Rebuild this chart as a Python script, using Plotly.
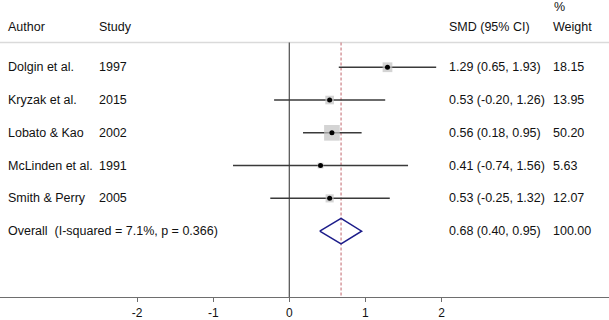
import plotly.graph_objects as go

# ---- data ----
authors = ["Dolgin et al.", "Kryzak et al.", "Lobato & Kao", "McLinden et al.", "Smith & Perry"]
years = ["1997", "2015", "2002", "1991", "2005"]
smd = [1.29, 0.53, 0.56, 0.41, 0.53]
ci_low = [0.65, -0.20, 0.18, -0.74, -0.25]
ci_high = [1.93, 1.26, 0.95, 1.56, 1.32]
weights = [18.15, 13.95, 50.20, 5.63, 12.07]

overall_label = "Overall\u00a0 (I-squared = 7.1%, p = 0.366)"
overall_smd = 0.68
overall_low = 0.40
overall_high = 0.95
overall_weight = 100.00

tick_vals = [-2, -1, 0, 1, 2]
tick_text = ["-2", "-1", "0", "1", "2"]

# ---- layout helpers ----
W, H = 609, 320
X_RANGE = [-3.802, 4.201]
Y_RANGE = [8.009, -1.0515]   # row index, reversed (row 1 at top)
FONT = "Liberation Sans, Arial, sans-serif"

def px(p):
    return p / W

rows = list(range(1, len(authors) + 1))
overall_row = len(authors) + 1
sep_row = 0.242
header_row = -0.23
pct_row = -0.83

fig = go.Figure()

# CI lines
for r, lo, hi in zip(rows, ci_low, ci_high):
    fig.add_trace(go.Scatter(x=[lo, hi], y=[r, r], mode="lines",
                             line=dict(color="#3a3a3a", width=1.5),
                             hoverinfo="skip", showlegend=False))

# weight boxes
fig.add_trace(go.Scatter(x=smd, y=rows, mode="markers",
                         marker=dict(symbol="square", color="#c2c2c2",
                                     size=[2.1 * w ** 0.5 + 0.8 for w in weights],
                                     line=dict(width=0)),
                         hoverinfo="skip", showlegend=False))
# point estimates
fig.add_trace(go.Scatter(x=smd, y=rows, mode="markers",
                         marker=dict(symbol="circle", color="black", size=5),
                         hoverinfo="skip", showlegend=False))

# overall diamond
dh = 0.39
fig.add_trace(go.Scatter(
    x=[overall_low, overall_smd, overall_high, overall_smd, overall_low],
    y=[overall_row, overall_row - dh, overall_row, overall_row + dh, overall_row],
    mode="lines", line=dict(color="#1c1c8a", width=1.5),
    hoverinfo="skip", showlegend=False))

shapes = [
    # header separator
    dict(type="line", xref="paper", yref="y", x0=0, x1=1, y0=sep_row, y1=sep_row,
         line=dict(color="#dadada", width=1.5), layer="below"),
    # null line
    dict(type="line", xref="x", yref="y", x0=0, x1=0, y0=sep_row, y1=Y_RANGE[0],
         line=dict(color="#5a5a5a", width=1.3), layer="below"),
    # overall dashed line
    dict(type="line", xref="x", yref="y", x0=overall_smd, x1=overall_smd,
         y0=sep_row, y1=Y_RANGE[0],
         line=dict(color="#cc7f85", width=1.2, dash="3px,2px"), layer="below"),
]

ann = []
def text(x, y, s):
    ann.append(dict(x=x, y=y, xref="paper", yref="y", text=s, showarrow=False,
                    xanchor="left", yanchor="middle",
                    font=dict(family=FONT, size=12.5, color="#111111")))

text(px(6), header_row, "Author")
text(px(97), header_row, "Study")
text(px(447), header_row, "SMD (95% CI)")
text(px(551), header_row, "Weight")
text(px(552), pct_row, "%")

for r, a, yv, e, lo, hi, w in zip(rows, authors, years, smd, ci_low, ci_high, weights):
    text(px(6), r, a)
    text(px(97), r, yv)
    text(px(447), r, f"{e:.2f} ({lo:.2f}, {hi:.2f})")
    text(px(551), r, f"{w:.2f}")

text(px(6), overall_row, overall_label)
text(px(447), overall_row, f"{overall_smd:.2f} ({overall_low:.2f}, {overall_high:.2f})")
text(px(551), overall_row, f"{overall_weight:.2f}")

fig.update_layout(
    width=W, height=H,
    margin=dict(l=0, r=0, t=0, b=21),
    paper_bgcolor="white", plot_bgcolor="white",
    shapes=shapes, annotations=ann,
    font=dict(family=FONT, size=12, color="#111111"),
    xaxis=dict(range=X_RANGE, tickvals=tick_vals, ticktext=tick_text,
               showgrid=False, zeroline=False, showline=True,
               linecolor="#6e6e6e", linewidth=1.2,
               ticks="outside", ticklen=4, tickcolor="#6e6e6e", tickwidth=1,
               tickfont=dict(family=FONT, size=12, color="#111111"),
               fixedrange=True),
    yaxis=dict(range=Y_RANGE, visible=False, showgrid=False, zeroline=False,
               fixedrange=True),
)

fig.write_html(
    "out.html",
    config={"displayModeBar": False},
    post_script="document.body.style.margin='0';document.body.style.padding='0';"
                "document.body.style.overflow='hidden';",
)
